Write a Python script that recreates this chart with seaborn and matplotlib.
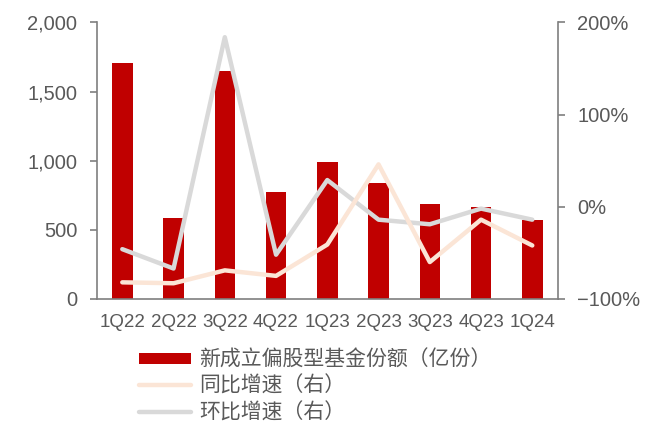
import numpy as np
import pandas as pd
import matplotlib
matplotlib.use("Agg")
import matplotlib.pyplot as plt
import seaborn as sns
from matplotlib.ticker import FuncFormatter, FixedLocator
from matplotlib.patches import Patch
from matplotlib.lines import Line2D

categories = ["1Q22", "2Q22", "3Q22", "4Q22", "1Q23", "2Q23", "3Q23", "4Q23", "1Q24"]
shares = [1705, 584, 1649, 776, 989, 841, 685, 665, 574]          # 亿份
yoy = [-82, -83, -69, -75, -41, 46, -60, -14, -42]                 # %
qoq = [-46, -67, 184, -52, 29, -14, -19, -2, -14]                  # %
left_ticks = [0, 500, 1000, 1500, 2000]
right_ticks = [-100, 0, 100, 200]
legend_labels = ["新成立偏股型基金份额（亿份）", "同比增速（右）", "环比增速（右）"]

sns.set_style("white")
plt.rcParams["font.family"] = ["Noto Sans CJK SC", "DejaVu Sans"]
plt.rcParams["axes.unicode_minus"] = True

BAR = "#C00000"
PEACH = "#FBE5D6"
GRAY = "#D9D9D9"
SPINE = "#7F7F7F"
TXT = "#595959"
NUMFONT = ["Liberation Sans", "DejaVu Sans"]

fig = plt.figure(figsize=(6.51, 4.24), dpi=100)
ax = fig.add_axes([0.1485, 0.295, 0.857 - 0.1485, 0.947 - 0.295])

df = pd.DataFrame({"q": categories, "shares": shares, "yoy": yoy, "qoq": qoq})
df["pos"] = np.arange(len(categories))

sns.barplot(data=df, x="q", y="shares", color=BAR, saturation=1, width=0.4, ax=ax, zorder=2)
for p in ax.patches:
    p.set_edgecolor("none")
ax.set_ylim(0, 2000)
ax.set_xlim(-0.5, len(categories) - 0.5)
ax.set_yticks(left_ticks)
ax.yaxis.set_major_formatter(FuncFormatter(lambda v, _: f"{int(v):,}"))
ax.set_xlabel("")
ax.set_ylabel("")

ax2 = ax.twinx()
sns.lineplot(data=df, x="pos", y="qoq", color=GRAY, lw=3.2, ax=ax2, zorder=3)
sns.lineplot(data=df, x="pos", y="yoy", color=PEACH, lw=3.2, ax=ax2, zorder=4)
ax2.set_ylim(-100, 200)
ax2.set_yticks(right_ticks)
ax2.yaxis.set_major_formatter(FuncFormatter(lambda v, _: f"{int(v)}%".replace("-", "\u2212")))
ax2.set_xlim(-0.5, len(categories) - 0.5)
ax2.set_xlabel("")
ax2.set_ylabel("")

# x ticks: marks at boundaries, labels at centers
ax.xaxis.set_major_locator(FixedLocator(np.arange(-0.5, len(categories), 1.0)))
ax.xaxis.set_major_formatter(FuncFormatter(lambda v, _: ""))
ax.xaxis.set_minor_locator(FixedLocator(np.arange(len(categories))))
ax.set_xticklabels(categories, minor=True)
ax.tick_params(axis="x", which="major", length=5, width=1.2, color=SPINE, direction="out")
ax.tick_params(axis="x", which="minor", length=0, pad=11, labelsize=13.5, labelcolor=TXT)
for t in ax.get_xticklabels(minor=True):
    t.set_fontfamily(NUMFONT)

ax.tick_params(axis="y", length=5, width=1.2, color=SPINE, direction="out", labelsize=14.5, labelcolor=TXT, pad=9, left=True)
ax2.tick_params(axis="y", length=5, width=1.2, color=SPINE, direction="out", labelsize=14.5, labelcolor=TXT, pad=9, right=True)
for t in ax.get_yticklabels() + ax2.get_yticklabels():
    t.set_fontfamily(NUMFONT)

for a in (ax, ax2):
    a.spines["top"].set_visible(False)
    a.grid(False)
ax.spines["right"].set_visible(False)
ax2.spines["left"].set_visible(False)
ax2.spines["bottom"].set_visible(False)
for s in ("left", "bottom"):
    ax.spines[s].set_color(SPINE)
    ax.spines[s].set_linewidth(1.2)
ax2.spines["right"].set_color(SPINE)
ax2.spines["right"].set_linewidth(1.2)

if ax2.get_legend():
    ax2.get_legend().remove()

handles = [
    Patch(facecolor=BAR, edgecolor="none"),
    Line2D([], [], color=PEACH, lw=3.2),
    Line2D([], [], color=GRAY, lw=3.2),
]
fig.legend(handles, legend_labels, loc="upper left", bbox_to_anchor=(0.213, 0.177),
           frameon=False, fontsize=15, labelcolor=TXT, handlelength=2.5,
           handleheight=0.5, handletextpad=0.4, labelspacing=0.2, borderpad=0, borderaxespad=0)

fig.savefig("out.png", dpi=100)
